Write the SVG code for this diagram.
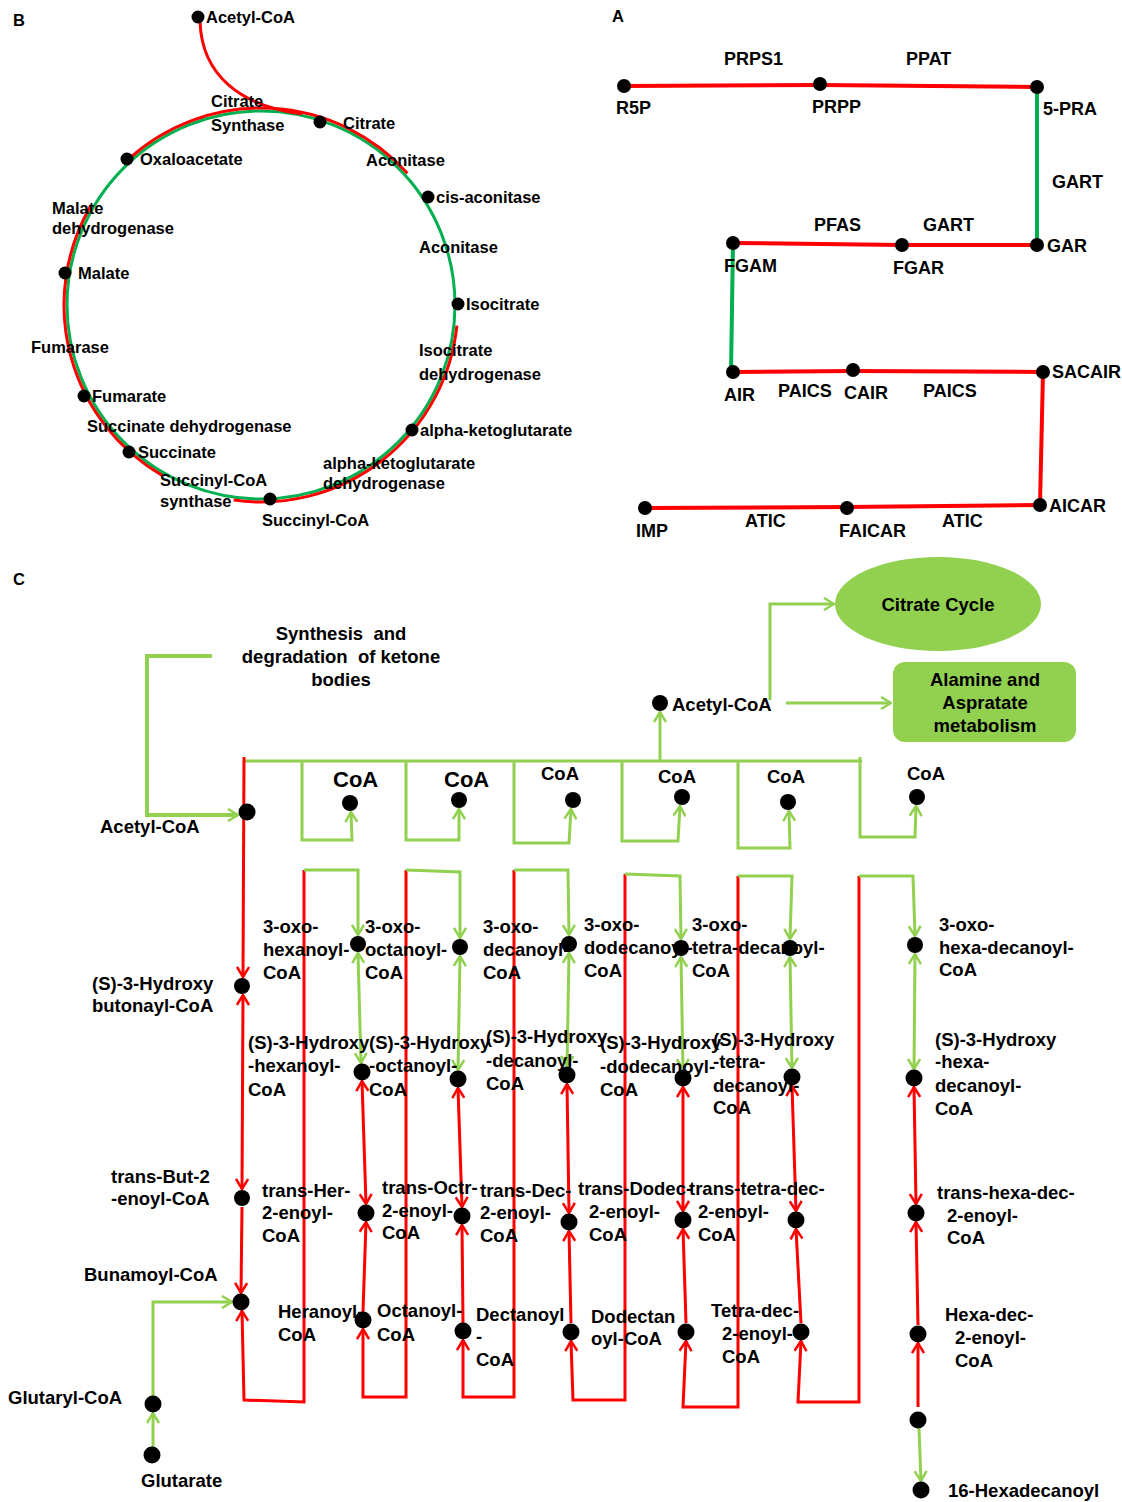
<svg xmlns="http://www.w3.org/2000/svg" width="1122" height="1502" viewBox="0 0 1122 1502">
<style>
text{font-family:"Liberation Sans",Arial,Helvetica,sans-serif;font-weight:bold;fill:#000;white-space:pre}
.tb{font-size:16.5px}
.ta{font-size:18px}
.tc{font-size:18.5px}
.big{font-size:22px}
.red{stroke:#FF0000;fill:none;stroke-width:3}
.redA{stroke:#FF0000;fill:none;stroke-width:4}
.grA{stroke:#00B050;fill:none;stroke-width:4}
.grB{stroke:#00B050;fill:none;stroke-width:3}
.lg{stroke:#92D050;fill:none;stroke-width:3}
.lgw{stroke:#92D050;fill:none;stroke-width:4}
.dot{fill:#000}
.ae{marker-end:url(#ar)}
.as{marker-start:url(#ar)}
.ab{marker-start:url(#ar);marker-end:url(#ar)}
.ge{marker-end:url(#ag)}
.gb{marker-start:url(#ag);marker-end:url(#ag)}
</style>
<defs>
<marker id="ar" viewBox="0 0 12 14" refX="11" refY="7" markerWidth="12" markerHeight="14" markerUnits="userSpaceOnUse" orient="auto-start-reverse"><path d="M1,1 L11,7 L1,13" fill="none" stroke="#FF0000" stroke-width="2.5"/></marker>
<marker id="ag" viewBox="0 0 12 14" refX="11" refY="7" markerWidth="12" markerHeight="14" markerUnits="userSpaceOnUse" orient="auto-start-reverse"><path d="M1,1 L11,7 L1,13" fill="none" stroke="#92D050" stroke-width="2.5"/></marker>
</defs>
<rect width="1122" height="1502" fill="#fff"/>

<!-- ===== Panel B ===== -->
<text class="tb" x="13" y="26">B</text>
<g id="connectors-B">
<circle class="grB" cx="261" cy="305" r="194"/>
<path class="red" d="M129.2,158.6 A197,197 0 0 1 407.4,173.2"/>
<path class="red" d="M90.4,206.5 A197,197 0 0 0 162.5,475.6"/>
<path class="red" d="M233.6,500.1 A197,197 0 0 0 456.9,325.6"/>
<path class="red" d="M200,22 C202,75 240,106 302,114"/>
</g>
<g id="b-acetyl"><circle class="dot" cx="198" cy="17" r="6.5"/><text class="tb" x="206" y="23">Acetyl-CoA</text></g>
<g id="b-citsyn"><text class="tb" x="211" y="107">Citrate</text><text class="tb" x="211" y="131">Synthase</text></g>
<g id="b-citrate"><circle class="dot" cx="320" cy="122" r="6.5"/><text class="tb" x="343" y="129">Citrate</text></g>
<g id="b-oxalo"><circle class="dot" cx="127" cy="159" r="6.5"/><text class="tb" x="140" y="165">Oxaloacetate</text></g>
<g id="b-aco1"><text class="tb" x="366" y="166">Aconitase</text></g>
<g id="b-cis"><circle class="dot" cx="428" cy="197" r="6.5"/><text class="tb" x="436" y="203">cis-aconitase</text></g>
<g id="b-mdh"><text class="tb" x="52" y="214">Malate</text><text class="tb" x="52" y="234">dehydrogenase</text></g>
<g id="b-aco2"><text class="tb" x="419" y="253">Aconitase</text></g>
<g id="b-malate"><circle class="dot" cx="65" cy="273" r="6.5"/><text class="tb" x="78" y="279">Malate</text></g>
<g id="b-iso"><circle class="dot" cx="458" cy="304" r="6.5"/><text class="tb" x="466" y="310">Isocitrate</text></g>
<g id="b-fumarase"><text class="tb" x="31" y="353">Fumarase</text></g>
<g id="b-idh"><text class="tb" x="419" y="356">Isocitrate</text><text class="tb" x="419" y="380">dehydrogenase</text></g>
<g id="b-fumarate"><circle class="dot" cx="84" cy="396" r="6.5"/><text class="tb" x="92" y="402">Fumarate</text></g>
<g id="b-sdh"><text class="tb" x="87" y="432">Succinate dehydrogenase</text></g>
<g id="b-akg"><circle class="dot" cx="412" cy="430" r="6.5"/><text class="tb" x="420" y="436">alpha-ketoglutarate</text></g>
<g id="b-succinate"><circle class="dot" cx="129" cy="452" r="6.5"/><text class="tb" x="138" y="458">Succinate</text></g>
<g id="b-akgdh"><text class="tb" x="323" y="469">alpha-ketoglutarate</text><text class="tb" x="323" y="489">dehydrogenase</text></g>
<g id="b-scs"><text class="tb" x="160" y="486">Succinyl-CoA</text><text class="tb" x="160" y="507">synthase</text></g>
<g id="b-succoa"><circle class="dot" cx="270" cy="499" r="6.5"/><text class="tb" x="262" y="526">Succinyl-CoA</text></g>

<!-- ===== Panel A ===== -->
<text class="tb" x="612" y="22">A</text>
<g id="connectors-A">
<path class="redA" d="M624,86 L820,85 L1037,87"/>
<path class="grA" d="M1037,87 L1037,245"/>
<path class="redA" d="M1037,245 L902,245 L733,243"/>
<path class="grA" d="M733,243 L731,372"/>
<path class="redA" d="M733,372 L853,371 L1043,372 L1040,505"/>
<path class="redA" d="M1040,505 L847,507 L645,508"/>
</g>
<g id="a-prps1"><text class="ta" x="724" y="65">PRPS1</text></g>
<g id="a-ppat"><text class="ta" x="906" y="65">PPAT</text></g>
<g id="a-r5p"><circle class="dot" cx="624" cy="86" r="7"/><text class="ta" x="616" y="114">R5P</text></g>
<g id="a-prpp"><circle class="dot" cx="820" cy="84" r="7"/><text class="ta" x="812" y="113">PRPP</text></g>
<g id="a-5pra"><circle class="dot" cx="1037" cy="87" r="7"/><text class="ta" x="1043" y="115">5-PRA</text></g>
<g id="a-gart1"><text class="ta" x="1052" y="188">GART</text></g>
<g id="a-pfas"><text class="ta" x="814" y="231">PFAS</text></g>
<g id="a-gart2"><text class="ta" x="923" y="231">GART</text></g>
<g id="a-gar"><circle class="dot" cx="1037" cy="245" r="7"/><text class="ta" x="1047" y="252">GAR</text></g>
<g id="a-fgam"><circle class="dot" cx="733" cy="243" r="7"/><text class="ta" x="724" y="272">FGAM</text></g>
<g id="a-fgar"><circle class="dot" cx="902" cy="245" r="7"/><text class="ta" x="893" y="274">FGAR</text></g>
<g id="a-air"><circle class="dot" cx="733" cy="372" r="7"/><text class="ta" x="724" y="401">AIR</text></g>
<g id="a-paics1"><text class="ta" x="778" y="397">PAICS</text></g>
<g id="a-cair"><circle class="dot" cx="853" cy="370" r="7"/><text class="ta" x="844" y="399">CAIR</text></g>
<g id="a-paics2"><text class="ta" x="923" y="397">PAICS</text></g>
<g id="a-sacair"><circle class="dot" cx="1043" cy="372" r="7"/><text class="ta" x="1052" y="378">SACAIR</text></g>
<g id="a-aicar"><circle class="dot" cx="1040" cy="505" r="7"/><text class="ta" x="1049" y="512">AICAR</text></g>
<g id="a-faicar"><circle class="dot" cx="847" cy="508" r="7"/><text class="ta" x="839" y="537">FAICAR</text></g>
<g id="a-imp"><circle class="dot" cx="645" cy="508" r="7"/><text class="ta" x="636" y="537">IMP</text></g>
<g id="a-atic1"><text class="ta" x="745" y="527">ATIC</text></g>
<g id="a-atic2"><text class="ta" x="942" y="527">ATIC</text></g>

<!-- ===== Panel C ===== -->
<text class="tb" x="13" y="585">C</text>
<g id="connectors-C">
<!-- ketone bodies bracket -->
<path class="lgw ge" d="M212,656 L147,656 L147,815 L238,815"/>
<!-- top bar -->
<path class="lg" d="M245,761 L862,761"/>
<path class="lg ge" d="M660,761 L660,712"/>
<path class="lg ge" d="M770,700 L770,604 L834,604"/>
<path class="lg ge" d="M786,703 L891,703"/>
<!-- CoA loops -->
<path class="lg ge" d="M302,761 L302,840 L352,840 L351,812"/>
<path class="lg ge" d="M406,761 L406,840 L459,840 L459,809"/>
<path class="lg ge" d="M514,761 L514,843 L569,843 L571,809"/>
<path class="lg ge" d="M622,761 L622,841 L678,841 L680,806"/>
<path class="lg ge" d="M738,761 L738,848 L790,848 L789,811"/>
<path class="lg ge" d="M860,757 L860,837 L915,837 L916,806"/>
<!-- column 0 -->
<path class="red ae" d="M244,757 L243,977"/>
<path class="red ab" d="M243,995 L242,1189"/>
<path class="red ae" d="M242,1207 L241,1293"/>
<path class="red ae" d="M304,870 L304,1402 L244,1400 L242,1311"/>
<!-- column 1 -->
<path class="lg ge" d="M304,870 L358,870 L358,935"/>
<path class="lg gb" d="M358,953 L361,1063"/>
<path class="red ab" d="M362,1081 L366,1204"/>
<path class="red as" d="M366,1222 L363,1312"/>
<path class="red ae" d="M406,870 L406,1397 L363,1397 L363,1329"/>
<!-- column 2 -->
<path class="lg ge" d="M406,870 L460,872 L460,938"/>
<path class="lg gb" d="M460,956 L458,1070"/>
<path class="red ab" d="M458,1088 L462,1207"/>
<path class="red as" d="M462,1225 L463,1323"/>
<path class="red ae" d="M514,870 L514,1397 L463,1397 L463,1340"/>
<!-- column 3 -->
<path class="lg ge" d="M514,870 L568,870 L569,935"/>
<path class="lg gb" d="M569,953 L567,1066"/>
<path class="red ab" d="M567,1084 L569,1213"/>
<path class="red as" d="M569,1231 L571,1323"/>
<path class="red ae" d="M625,874 L625,1400 L573,1400 L571,1341"/>
<!-- column 4 -->
<path class="lg ge" d="M625,874 L680,876 L681,939"/>
<path class="lg gb" d="M681,957 L683,1069"/>
<path class="red ab" d="M683,1087 L683,1211"/>
<path class="red as" d="M683,1229 L686,1323"/>
<path class="red ae" d="M738,876 L738,1407 L683,1407 L686,1341"/>
<!-- column 5 -->
<path class="lg ge" d="M738,876 L792,876 L790,939"/>
<path class="lg gb" d="M790,957 L792,1068"/>
<path class="red ab" d="M792,1086 L796,1211"/>
<path class="red as" d="M796,1229 L801,1323"/>
<path class="red ae" d="M859,876 L859,1402 L798,1402 L801,1341"/>
<!-- column 6 -->
<path class="lg ge" d="M859,876 L913,876 L915,936"/>
<path class="lg gb" d="M915,954 L914,1069"/>
<path class="red ab" d="M914,1087 L916,1204"/>
<path class="red as" d="M916,1222 L918,1325"/>
<path class="red as" d="M918,1343 L918,1407"/>
<path class="lg ge" d="M919,1428 L921,1481"/>
<!-- glutarate -->
<path class="lg ge" d="M153,1447 L153,1413"/>
<path class="lg ge" d="M153,1396 L153,1302 L232,1302"/>
</g>

<g id="c-ketone"><text class="tc" text-anchor="middle" x="341" y="640">Synthesis  and</text><text class="tc" text-anchor="middle" x="341" y="663">degradation  of ketone</text><text class="tc" text-anchor="middle" x="341" y="686">bodies</text></g>
<g id="c-citratecycle"><ellipse cx="938" cy="604" rx="103" ry="47" fill="#92D050"/><text class="tc" text-anchor="middle" x="938" y="611">Citrate Cycle</text></g>
<g id="c-alamine"><rect x="893" y="662" width="183" height="80" rx="12" fill="#92D050"/><text class="tc" text-anchor="middle" x="985" y="686">Alamine and</text><text class="tc" text-anchor="middle" x="985" y="709">Aspratate</text><text class="tc" text-anchor="middle" x="985" y="732">metabolism</text></g>
<g id="c-acetyl-top"><circle class="dot" cx="660" cy="703" r="8"/><text class="tc" x="672" y="711">Acetyl-CoA</text></g>
<g id="c-acetyl"><circle class="dot" cx="247" cy="812" r="8.5"/><text class="tc" x="100" y="833">Acetyl-CoA</text></g>
<g id="c-coa1"><circle class="dot" cx="350" cy="803" r="8"/><text class="big" x="333" y="787">CoA</text></g>
<g id="c-coa2"><circle class="dot" cx="459" cy="800" r="8"/><text class="big" x="444" y="787">CoA</text></g>
<g id="c-coa3"><circle class="dot" cx="573" cy="800" r="8"/><text class="tc" x="541" y="780">CoA</text></g>
<g id="c-coa4"><circle class="dot" cx="682" cy="797" r="8"/><text class="tc" x="658" y="783">CoA</text></g>
<g id="c-coa5"><circle class="dot" cx="788" cy="802" r="8"/><text class="tc" x="767" y="783">CoA</text></g>
<g id="c-coa6"><circle class="dot" cx="917" cy="797" r="8"/><text class="tc" x="907" y="780">CoA</text></g>

<g id="c-hb"><circle class="dot" cx="242" cy="986" r="8"/><text class="tc" x="92" y="990">(S)-3-Hydroxy</text><text class="tc" x="92" y="1012">butonayl-CoA</text></g>
<g id="c-tb"><circle class="dot" cx="242" cy="1198" r="8"/><text class="tc" x="111" y="1183">trans-But-2</text><text class="tc" x="111" y="1205">-enoyl-CoA</text></g>
<g id="c-bun"><circle class="dot" cx="241" cy="1302" r="8.5"/><text class="tc" x="84" y="1281">Bunamoyl-CoA</text></g>

<g id="c-oxo6"><circle class="dot" cx="358" cy="944" r="8"/><text class="tc" x="263" y="933">3-oxo-</text><text class="tc" x="263" y="956">hexanoyl-</text><text class="tc" x="263" y="979">CoA</text></g>
<g id="c-oxo8"><circle class="dot" cx="460" cy="947" r="8"/><text class="tc" x="365" y="933">3-oxo-</text><text class="tc" x="365" y="956">octanoyl-</text><text class="tc" x="365" y="979">CoA</text></g>
<g id="c-oxo10"><circle class="dot" cx="569" cy="944" r="8"/><text class="tc" x="483" y="933">3-oxo-</text><text class="tc" x="483" y="956">decanoyl-</text><text class="tc" x="483" y="979">CoA</text></g>
<g id="c-oxo12"><circle class="dot" cx="681" cy="948" r="8"/><text class="tc" x="584" y="931">3-oxo-</text><text class="tc" x="584" y="954">dodecanoyl-</text><text class="tc" x="584" y="977">CoA</text></g>
<g id="c-oxo14"><circle class="dot" cx="790" cy="948" r="8"/><text class="tc" x="692" y="931">3-oxo-</text><text class="tc" x="692" y="954">tetra-decanoyl-</text><text class="tc" x="692" y="977">CoA</text></g>
<g id="c-oxo16"><circle class="dot" cx="915" cy="945" r="8"/><text class="tc" x="939" y="931">3-oxo-</text><text class="tc" x="939" y="954">hexa-decanoyl-</text><text class="tc" x="939" y="976">CoA</text></g>

<g id="c-h6"><circle class="dot" cx="362" cy="1072" r="8.5"/><text class="tc" x="248" y="1049">(S)-3-Hydroxy</text><text class="tc" x="248" y="1072">-hexanoyl-</text><text class="tc" x="248" y="1096">CoA</text></g>
<g id="c-h8"><circle class="dot" cx="458" cy="1079" r="8.5"/><text class="tc" x="369" y="1049">(S)-3-Hydroxy</text><text class="tc" x="369" y="1072">-octanoyl-</text><text class="tc" x="369" y="1096">CoA</text></g>
<g id="c-h10"><circle class="dot" cx="567" cy="1075" r="8.5"/><text class="tc" x="486" y="1043">(S)-3-Hydroxy</text><text class="tc" x="486" y="1067">-decanoyl-</text><text class="tc" x="486" y="1090">CoA</text></g>
<g id="c-h12"><circle class="dot" cx="683" cy="1078" r="8.5"/><text class="tc" x="600" y="1049">(S)-3-Hydroxy</text><text class="tc" x="600" y="1073">-dodecanoyl-</text><text class="tc" x="600" y="1096">CoA</text></g>
<g id="c-h14"><circle class="dot" cx="792" cy="1077" r="8.5"/><text class="tc" x="713" y="1046">(S)-3-Hydroxy</text><text class="tc" x="713" y="1068">-tetra-</text><text class="tc" x="713" y="1092">decanoyl-</text><text class="tc" x="713" y="1114">CoA</text></g>
<g id="c-h16"><circle class="dot" cx="914" cy="1078" r="8.5"/><text class="tc" x="935" y="1046">(S)-3-Hydroxy</text><text class="tc" x="935" y="1068">-hexa-</text><text class="tc" x="935" y="1092">decanoyl-</text><text class="tc" x="935" y="1115">CoA</text></g>

<g id="c-t6"><circle class="dot" cx="366" cy="1213" r="8.5"/><text class="tc" x="262" y="1197">trans-Her-</text><text class="tc" x="262" y="1219">2-enoyl-</text><text class="tc" x="262" y="1242">CoA</text></g>
<g id="c-t8"><circle class="dot" cx="462" cy="1216" r="8.5"/><text class="tc" x="382" y="1194">trans-Octr-</text><text class="tc" x="382" y="1217">2-enoyl-</text><text class="tc" x="382" y="1239">CoA</text></g>
<g id="c-t10"><circle class="dot" cx="569" cy="1222" r="8.5"/><text class="tc" x="480" y="1197">trans-Dec-</text><text class="tc" x="480" y="1219">2-enoyl-</text><text class="tc" x="480" y="1242">CoA</text></g>
<g id="c-t12"><circle class="dot" cx="683" cy="1220" r="8.5"/><text class="tc" x="578" y="1195">trans-Dodec-</text><text class="tc" x="589" y="1218">2-enoyl-</text><text class="tc" x="589" y="1241">CoA</text></g>
<g id="c-t14"><circle class="dot" cx="796" cy="1220" r="8.5"/><text class="tc" x="689" y="1195">trans-tetra-dec-</text><text class="tc" x="698" y="1218">2-enoyl-</text><text class="tc" x="698" y="1241">CoA</text></g>
<g id="c-t16"><circle class="dot" cx="916" cy="1213" r="8.5"/><text class="tc" x="937" y="1199">trans-hexa-dec-</text><text class="tc" x="947" y="1222">2-enoyl-</text><text class="tc" x="947" y="1244">CoA</text></g>

<g id="c-a6"><circle class="dot" cx="363" cy="1320" r="8.5"/><text class="tc" x="278" y="1318">Heranoyl-</text><text class="tc" x="278" y="1341">CoA</text></g>
<g id="c-a8"><circle class="dot" cx="463" cy="1331" r="8.5"/><text class="tc" x="377" y="1317">Octanoyl-</text><text class="tc" x="377" y="1341">CoA</text></g>
<g id="c-a10"><circle class="dot" cx="571" cy="1332" r="8.5"/><text class="tc" x="476" y="1321">Dectanoyl</text><text class="tc" x="476" y="1343">-</text><text class="tc" x="476" y="1366">CoA</text></g>
<g id="c-a12"><circle class="dot" cx="686" cy="1332" r="8.5"/><text class="tc" x="591" y="1323">Dodectan</text><text class="tc" x="591" y="1345">oyl-CoA</text></g>
<g id="c-a14"><circle class="dot" cx="801" cy="1332" r="8.5"/><text class="tc" x="711" y="1317">Tetra-dec-</text><text class="tc" x="722" y="1340">2-enoyl-</text><text class="tc" x="722" y="1363">CoA</text></g>
<g id="c-a16"><circle class="dot" cx="918" cy="1334" r="8.5"/><text class="tc" x="945" y="1321">Hexa-dec-</text><text class="tc" x="955" y="1344">2-enoyl-</text><text class="tc" x="955" y="1367">CoA</text></g>
<g id="c-end"><circle class="dot" cx="918" cy="1420" r="8.5"/></g>
<g id="c-hexadecanoyl"><circle class="dot" cx="921" cy="1490" r="8.5"/><text class="tc" x="948" y="1497">16-Hexadecanoyl</text></g>
<g id="c-glutaryl"><circle class="dot" cx="153" cy="1404" r="8.5"/><text class="tc" x="8" y="1404">Glutaryl-CoA</text></g>
<g id="c-glutarate"><circle class="dot" cx="152" cy="1455" r="8.5"/><text class="tc" x="141" y="1487">Glutarate</text></g>
</svg>
